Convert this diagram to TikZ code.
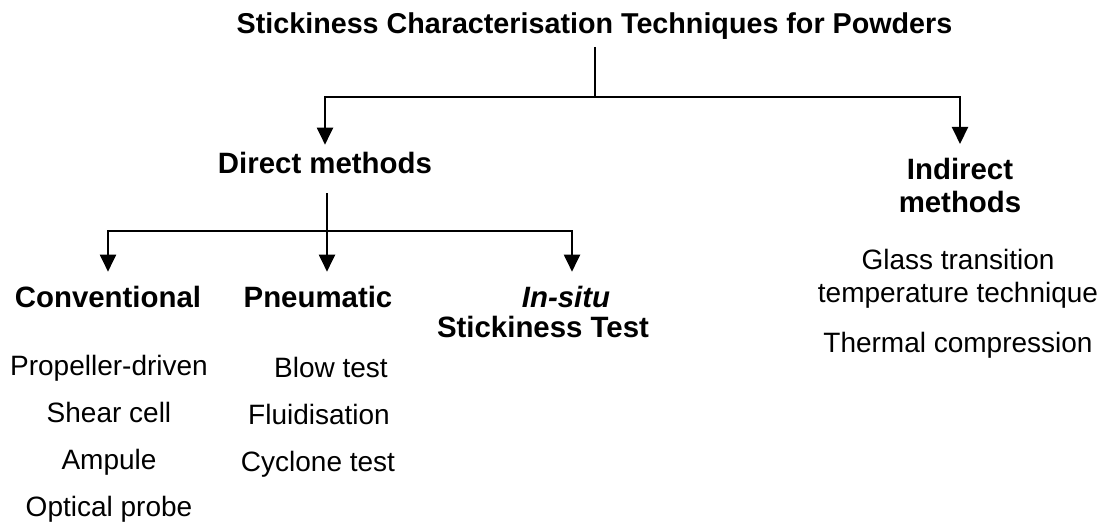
\documentclass[tikz,border=0pt]{standalone}
\usepackage{fontspec}
\setmainfont{Liberation Sans}
\usetikzlibrary{arrows.meta}
\begin{document}
\begin{tikzpicture}[x=1pt,y=-1pt,
  lbl/.style={font=\fontsize{28}{33}\selectfont, inner sep=0pt, outer sep=0pt, align=center},
  hd/.style={font=\fontsize{29.4}{33}\selectfont\bfseries, inner sep=0pt, outer sep=0pt, align=center},
  lst/.style={font=\fontsize{28}{47}\selectfont, inner sep=0pt, outer sep=0pt, align=center},
  ln/.style={line width=2pt},
  arr/.style={ln, -{Triangle[length=17pt,width=16pt]}}]
\useasboundingbox (0,0) rectangle (1110,532);
% nodes
\node[hd, anchor=base, font=\fontsize{28.7}{33}\selectfont\bfseries] (title) at (594.5,34) {Stickiness Characterisation Techniques for Powders};
\node[hd, anchor=base] (direct) at (325,173) {Direct methods};
\node[hd, anchor=north] (indirect) at (960,158) {Indirect\\methods};
\node[hd, anchor=base] (conv) at (108,307) {Conventional};
\node[hd, anchor=base] (pneu) at (318,307) {Pneumatic};
\node[hd, anchor=base, font=\fontsize{29.4}{33}\selectfont\bfseries\itshape] (insitu) at (566,307) {In-situ};
\node[hd, anchor=base] (stick) at (543,337) {Stickiness Test};
\node[lst, anchor=north] (convlist) at (109,355) {Propeller-driven\\Shear cell\\Ampule\\Optical probe};
\node[lbl, anchor=base] (blow) at (331,377) {Blow test};
\node[lbl, anchor=base] (fluid) at (319,424) {Fluidisation};
\node[lbl, anchor=base] (cyclone) at (318,471) {Cyclone test};
\node[lbl, anchor=north] (glass) at (958,249) {Glass transition\\temperature technique};
\node[lbl, anchor=base] (thermal) at (958,352) {Thermal compression};
% connectors
\coordinate (j1) at (595,97);
\coordinate (j2) at (327,231);
\draw[ln, shorten <=7pt] (title.south -| j1) -- (j1);
\draw[arr, shorten >=7pt] (j1) -| (direct.north);
\draw[arr, shorten >=14pt] (j1) -| (indirect.north);
\draw[arr, shorten <=20pt, shorten >=14pt] (direct.south -| j2) -- (pneu.north -| j2);
\draw[arr, shorten >=14pt] (j2) -| (conv.north);
\draw[arr, shorten >=14pt] (j2) -| ([xshift=6pt]insitu.north);
\end{tikzpicture}
\end{document}
